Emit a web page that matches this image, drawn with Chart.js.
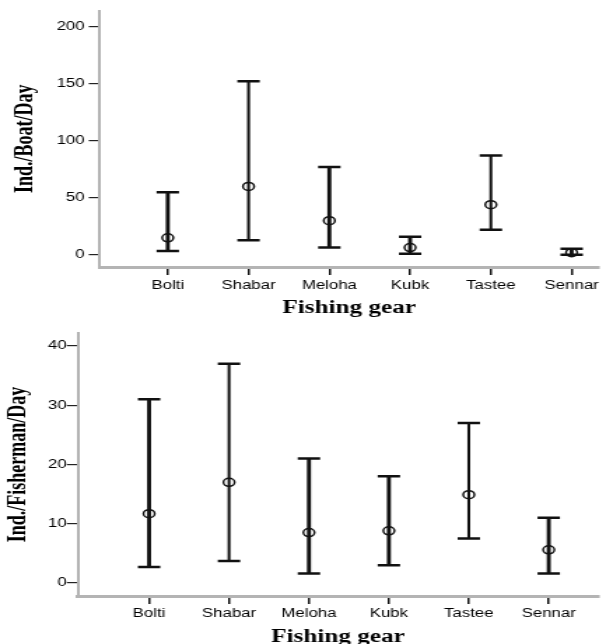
<!DOCTYPE html>
<html>
<head>
<meta charset="utf-8">
<script src="https://cdn.jsdelivr.net/npm/chart.js@4/dist/chart.umd.min.js"></script>
<style>
  body { margin: 0; background: #fff; overflow: hidden; }
  /* the source figure is stretched sideways, so draw narrow and widen */
  .panel { position: absolute; left: 0; transform: scaleX(1.3995); transform-origin: 0 0; }
  #p1 { top: 0; }
  #p2 { top: 322px; }
</style>
</head>
<body>
<div class="panel" id="p1"><canvas id="boat" width="438" height="322"></canvas></div>
<div class="panel" id="p2"><canvas id="fisher" width="438" height="326"></canvas></div>
<script>
const gears = ['Bolti', 'Shabar', 'Meloha', 'Kubk', 'Tastee', 'Sennar'];

// Ind./Boat/Day
const boatMean = [15, 60, 30, 6.5, 44, 2];
const boatLow = [3.5, 13, 6.5, 1, 22, 0.3];
const boatHigh = [55, 152, 77, 16, 87, 5.5];
const boatTicks = [0, 50, 100, 150, 200];

// Ind./Fisherman/Day
const fisherMean = [11.7, 17, 8.5, 8.8, 14.9, 5.6];
const fisherLow = [2.7, 3.7, 1.6, 3.0, 7.5, 1.6];
const fisherHigh = [31, 37, 21, 18, 27, 11];
const fisherTicks = [0, 10, 20, 30, 40];

// which whiskers are drawn with the heavier stroke
const boatHeavy = [true, false, true, true, false, true];
const fisherHeavy = [true, false, true, true, false, true];

const tickFont = { family: 'Liberation Sans', size: 12 };
const titleFont = { family: 'Liberation Serif', size: 18, weight: 'bold' };
const axisGray = '#b4b4b4';

function whiskers(low, high, heavy, wantHeavy, thickness) {
  return {
    type: 'bar',
    data: gears.map((g, i) => ({ x: i, y: [low[i], high[i]] })).filter((d, i) => heavy[i] === wantHeavy),
    backgroundColor: '#111',
    borderWidth: 0,
    barThickness: thickness,
    grouped: false,
  };
}

function caps(values) {
  return {
    type: 'line',
    data: values.map((v, i) => ({ x: i, y: v })),
    showLine: false,
    pointStyle: 'line',
    pointRadius: 8,
    pointBorderWidth: 2.5,
    pointBorderColor: '#111',
  };
}

function errorChart(id, o) {
  const ctx = document.getElementById(id).getContext('2d');
  return new Chart(ctx, {
    type: 'bar',
    data: {
      datasets: [
        {
          type: 'line',
          data: o.mean.map((v, i) => ({ x: i, y: v })),
          showLine: false,
          pointStyle: 'circle',
          pointRadius: 4,
          pointBorderWidth: 1.5,
          pointBorderColor: '#111',
          pointBackgroundColor: 'rgba(0,0,0,0)',
        },
        caps(o.high),
        caps(o.low),
        whiskers(o.low, o.high, o.heavy, true, 2.2),
        whiskers(o.low, o.high, o.heavy, false, 1.4),
      ],
    },
    options: {
      responsive: false,
      animation: false,
      devicePixelRatio: 1,
      layout: { padding: o.padding },
      plugins: { legend: { display: false }, tooltip: { enabled: false } },
      scales: {
        x: {
          type: 'linear',
          min: o.xMin,
          max: o.xMax,
          offset: false,
          afterBuildTicks: s => { s.ticks = gears.map((g, i) => ({ value: i })); },
          ticks: {
            callback: v => gears[v],
            font: tickFont,
            color: '#000',
            padding: o.xTickPad,
            maxRotation: 0,
            autoSkip: false,
          },
          border: { color: axisGray, width: 3 },
          grid: { offset: false, drawOnChartArea: false, tickLength: 8, color: '#111', lineWidth: 1.5 },
          title: { display: true, text: 'Fishing gear', font: titleFont, color: '#000', padding: o.xTitlePad },
        },
        y: {
          min: o.yMin,
          max: o.yMax,
          afterBuildTicks: s => { s.ticks = o.yTicks.map(v => ({ value: v })); },
          afterFit: s => { s.width = o.yWidth; },
          ticks: { font: tickFont, color: '#000', padding: o.yTickPad },
          border: { color: axisGray, width: 2 },
          grid: { drawOnChartArea: false, tickLength: 8, color: '#222', lineWidth: 1.2 },
          title: { display: true, text: o.yTitle, font: titleFont, color: '#000', padding: o.yTitlePad },
        },
      },
    },
  });
}

errorChart('boat', {
  mean: boatMean, low: boatLow, high: boatHigh, heavy: boatHeavy, yTicks: boatTicks,
  yMin: -10.5, yMax: 214, xMin: -0.84, xMax: 5.33,
  yTitle: 'Ind./Boat/Day', yWidth: 71.4, yTickPad: 3,
  yTitlePad: { top: 8, bottom: 0 }, xTickPad: 3, xTitlePad: { top: 2, bottom: 2 },
  padding: { top: 10, bottom: 1, left: 0, right: 0 },
});

errorChart('fisher', {
  mean: fisherMean, low: fisherLow, high: fisherHigh, heavy: fisherHeavy, yTicks: fisherTicks,
  yMin: -2.2, yMax: 42.2, xMin: -0.89, xMax: 5.62,
  yTitle: 'Ind./Fisherman/Day', yWidth: 55.7, yTickPad: 0,
  yTitlePad: { top: 3, bottom: 0 }, xTickPad: 2, xTitlePad: { top: 4, bottom: 0 },
  padding: { top: 11, bottom: 0, left: 0, right: 0 },
});
</script>
</body>
</html>
